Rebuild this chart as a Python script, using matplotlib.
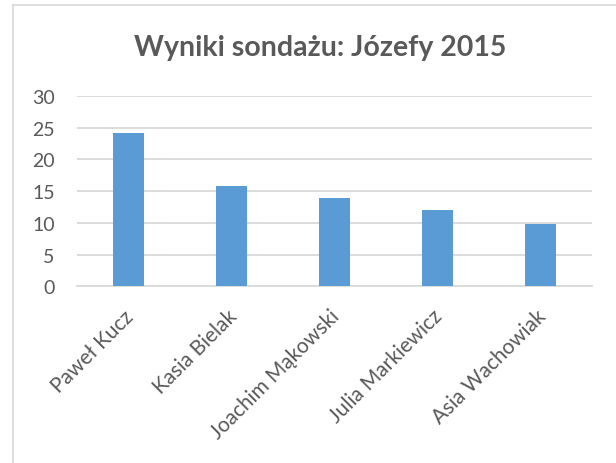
import matplotlib
matplotlib.use('Agg')
import matplotlib.pyplot as plt
import matplotlib.transforms as mtransforms
from matplotlib.lines import Line2D

names = ['Paweł Kucz', 'Kasia Bielak', 'Joachim Mąkowski', 'Julia Markiewicz', 'Asia Wachowiak']
votes = [24.1, 15.8, 13.9, 12.0, 9.8]
yticks = [0, 5, 10, 15, 20, 25, 30]

text_col = '#595959'
grid_col = '#D9D9D9'

plt.rcParams['font.family'] = ['Lato', 'DejaVu Sans']

fig = plt.figure(figsize=(6.16, 4.64), dpi=100)
ax = fig.add_axes([0.125, 0.381, 0.836, 0.410])

x = range(len(names))
ax.bar(x, votes, width=0.31, color='#5B9BD5', zorder=3)
ax.set_xlim(-0.5, len(names) - 0.5)
ax.set_ylim(0, 30)
ax.set_yticks(yticks)
ax.yaxis.grid(True, color=grid_col, linewidth=1.3, zorder=0)
ax.tick_params(axis='y', length=0, pad=16, labelsize=14, labelcolor=text_col)
ax.tick_params(axis='x', length=0, pad=14, labelsize=15, labelcolor=text_col)
ax.set_xticks(list(x))
ax.set_xticklabels(names, rotation=45, ha='right', rotation_mode='anchor')
# nudge the slanted labels a little to the left, like the Excel layout
shift = mtransforms.ScaledTranslation(-5 / 100, 0, fig.dpi_scale_trans)
for lbl in ax.get_xticklabels():
    lbl.set_transform(lbl.get_transform() + shift)
for s in ['top', 'right', 'left']:
    ax.spines[s].set_visible(False)
ax.spines['bottom'].set_color(grid_col)
ax.spines['bottom'].set_linewidth(1.3)

fig.text(0.519, 0.897, 'Wyniki sondażu: Józefy 2015', ha='center', va='center',
         fontsize=20.5, fontweight='bold', color=text_col)

# chart frame edges visible in the screenshot
fig.add_artist(Line2D([13 / 616, 13 / 616], [0, 1 - 6 / 464], transform=fig.transFigure,
                      color='#D9D9D9', linewidth=1.2))
fig.add_artist(Line2D([13 / 616, 1], [1 - 6 / 464, 1 - 6 / 464], transform=fig.transFigure,
                      color='#D9D9D9', linewidth=1.2))

fig.savefig('out.png', dpi=100)
